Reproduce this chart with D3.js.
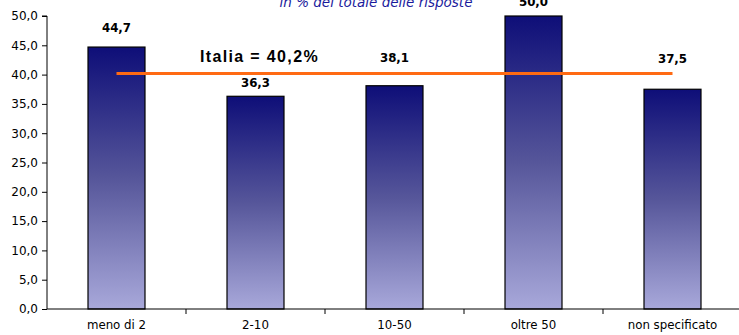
<!DOCTYPE html>
<html>
<head>
<meta charset="utf-8">
<script src="https://cdn.jsdelivr.net/npm/d3@7"></script>
<style>
  html, body { margin: 0; padding: 0; background: #fff; }
  svg { display: block; }
</style>
</head>
<body>
<svg id="chart" width="739" height="335"></svg>
<script>
// Share of responses by company size class
const categories = ["meno di 2", "2-10", "10-50", "oltre 50", "non specificato"];
const values = [44.7, 36.3, 38.1, 50.0, 37.5];
const italiaValue = 40.2;
const yTicks = [0, 5, 10, 15, 20, 25, 30, 35, 40, 45, 50];
const subtitle = "in % del totale delle risposte";
const italiaLabel = "Italia = 40,2%";

const fmt = v => d3.format(".1f")(v).replace(".", ",");

const svg = d3.select("#chart");
const plotLeft = 47, plotRight = 742, plotTop = 16, plotBottom = 309;
// how far each value label sits above its bar (hand-placed labels)
const labelLift = [15, 9, 24, 10, 26];

const x = d3.scaleBand().domain(categories).range([plotLeft, plotRight]).paddingInner(0.59).paddingOuter(0.295);
const y = d3.scaleLinear().domain([0, 50]).range([plotBottom, plotTop]);

// vertical gradient used by every bar
const grad = svg.append("defs").append("linearGradient")
  .attr("id", "barFill").attr("x1", 0).attr("y1", 0).attr("x2", 0).attr("y2", 1);
grad.append("stop").attr("offset", "0%").attr("stop-color", "#0e0e78");
grad.append("stop").attr("offset", "50%").attr("stop-color", "#56569a");
grad.append("stop").attr("offset", "100%").attr("stop-color", "#a8a8da");

// bars
svg.append("g").selectAll("rect").data(values).join("rect")
  .attr("x", (d, i) => x(categories[i]))
  .attr("y", d => y(d))
  .attr("width", x.bandwidth())
  .attr("height", d => y(0) - y(d))
  .attr("fill", "url(#barFill)")
  .attr("stroke", "#000")
  .attr("stroke-width", 1.2);

// y axis
const yAxis = d3.axisLeft(y).tickValues(yTicks).tickFormat(fmt).tickSize(5).tickPadding(4);
const gy = svg.append("g").attr("transform", `translate(${plotLeft},0)`).call(yAxis);
gy.select(".domain").attr("stroke", "#000").attr("d", `M-5,${plotTop}H0V${plotBottom}`);
gy.selectAll(".tick line").attr("stroke", "#000");
gy.selectAll(".tick text").attr("fill", "#000")
  .style("font-family", "'DejaVu Sans', Verdana, sans-serif").style("font-size", "12px");

// x axis with tick marks between categories
const xBounds = d3.scaleLinear().domain([0, categories.length]).range([plotLeft, plotRight]);
const gx = svg.append("g").attr("transform", `translate(0,${plotBottom})`);
gx.append("line").attr("x1", plotLeft).attr("x2", plotRight).attr("stroke", "#000");
gx.selectAll("line.sep").data(d3.range(1, categories.length)).join("line")
  .attr("class", "sep")
  .attr("x1", d => xBounds(d)).attr("x2", d => xBounds(d))
  .attr("y1", 0).attr("y2", 5).attr("stroke", "#000");
gx.selectAll("text").data(categories).join("text")
  .attr("x", d => x(d) + x.bandwidth() / 2)
  .attr("y", 20)
  .attr("text-anchor", "middle")
  .style("font-family", "'DejaVu Sans', Verdana, sans-serif")
  .style("font-size", "11.8px")
  .text(d => d);

// value labels
svg.append("g").selectAll("text").data(values).join("text")
  .attr("x", (d, i) => x(categories[i]) + x.bandwidth() / 2)
  .attr("y", (d, i) => y(d) - labelLift[i])
  .attr("text-anchor", "middle")
  .style("font-family", "'DejaVu Sans', Verdana, sans-serif")
  .style("font-weight", "bold")
  .style("font-size", "11.8px")
  .text(d => fmt(d));

// national reference line
const first = categories[0], last = categories[categories.length - 1];
svg.append("line")
  .attr("x1", x(first) + x.bandwidth() / 2)
  .attr("x2", x(last) + x.bandwidth() / 2)
  .attr("y1", y(italiaValue)).attr("y2", y(italiaValue))
  .attr("stroke", "#ff6a13").attr("stroke-width", 3);

svg.append("text")
  .attr("x", 200).attr("y", 62)
  .style("font-family", "'Liberation Sans', Arial, sans-serif")
  .style("font-weight", "bold")
  .style("font-size", "16px")
  .style("letter-spacing", "1.35px")
  .text(italiaLabel);

// subtitle
svg.append("text")
  .attr("x", 376).attr("y", 7)
  .attr("text-anchor", "middle")
  .attr("fill", "#1a1a9c")
  .style("font-family", "'DejaVu Sans', Verdana, sans-serif")
  .style("font-style", "italic")
  .style("font-size", "13.5px")
  .text(subtitle);
</script>
</body>
</html>
